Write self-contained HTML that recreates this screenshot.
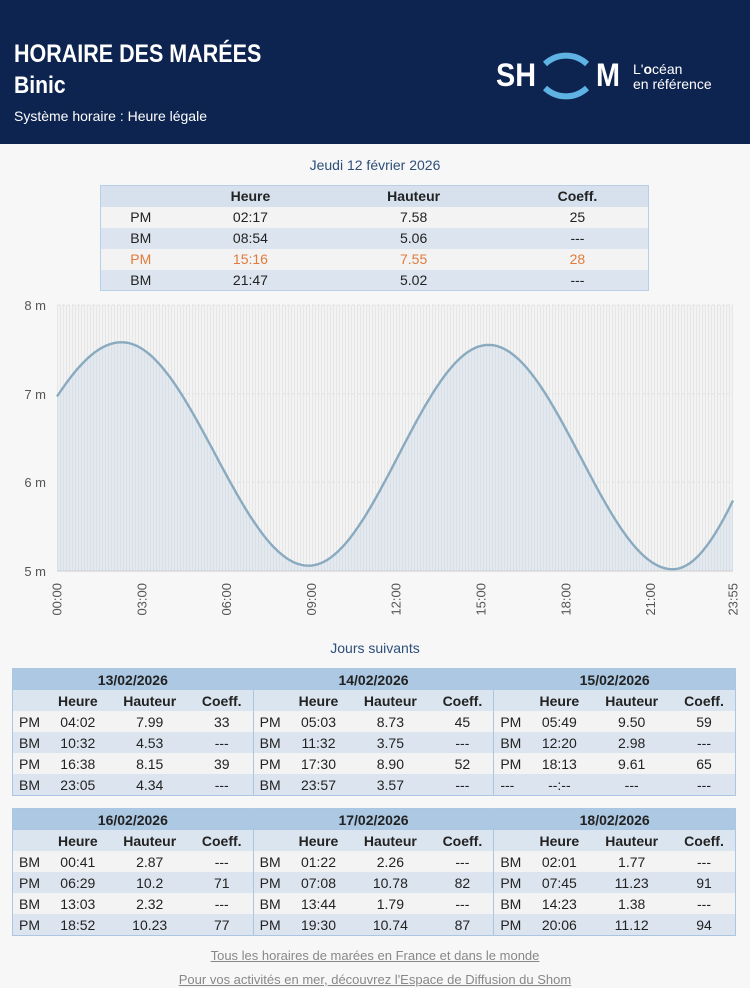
<!DOCTYPE html>
<html><head><meta charset="utf-8"><style>
*{margin:0;padding:0;box-sizing:border-box}
body{width:750px;height:988px;background:#f7f7f7;font-family:"Liberation Sans",sans-serif;position:relative;overflow:hidden;color:#222}
.hdr{position:absolute;left:0;top:0;width:750px;height:144px;background:#0d2350;color:#fff}
.a{position:absolute}
table{border-collapse:collapse;font-size:14px}
td,th{text-align:center;height:21px;padding:0}
th{font-weight:bold}
.t1{position:absolute;left:100px;top:185px;width:549px;border:1px solid #b8cfe6}
.t1 tr:nth-child(odd){background:#dce5ef}.t1 tr:nth-child(even){background:#f3f3f3}
.t1 tr:first-child{background:#d6e1ed}
.blk{position:absolute;left:12px;width:724px;border:1px solid #aac6e2;display:flex}
.blk table{width:241px;border-right:1px solid #aac6e2}
.blk table:last-child{border-right:none}
.blk tr.d{background:#adc8e3}.blk tr.h{background:#dbe5ef}
.blk tr.o{background:#f3f3f3}.blk tr.e{background:#dce5ef}
.blk td:first-child{text-align:left;padding-left:6px;width:34px}
.lnk{position:absolute;width:750px;text-align:center;font-size:13px;color:#888;text-decoration:underline}
</style></head><body>
<div class="hdr">
<div class="a" style="left:14px;top:40px;font-size:25px;font-weight:bold;transform:scaleX(0.86);transform-origin:0 0;white-space:nowrap">HORAIRE DES MARÉES</div>
<div class="a" style="left:14px;top:72px;font-size:24px;font-weight:bold;transform:scaleX(0.88);transform-origin:0 0">Binic</div>
<div class="a" style="left:14px;top:108px;font-size:14px">Système horaire : Heure légale</div>
<div class="a" style="left:496px;top:57px;font-size:32px;font-weight:bold;transform:scaleX(0.9);transform-origin:0 0">SH</div>
<div class="a" style="left:596px;top:57px;font-size:32px;font-weight:bold;transform:scaleX(0.9);transform-origin:0 0">M</div>
<svg class="a" style="left:530px;top:38px" width="72" height="76"><path d="M15 26 A32 34 0 0 1 57 26" stroke="#5eb3e4" stroke-width="6" fill="none"/><path d="M15 50 A32 34 0 0 0 57 50" stroke="#5eb3e4" stroke-width="6" fill="none"/></svg>
<div class="a" style="left:633px;top:62px;font-size:14px;line-height:15px">L'<b>o</b>céan<br>en référence</div>
</div>
<div class="a" style="left:0;width:750px;top:157px;text-align:center;font-size:14px;color:#2d4f7a">Jeudi 12 février 2026</div>
<table class="t1">
<tr><th style="width:80px"></th><th>Heure</th><th>Hauteur</th><th>Coeff.</th></tr>
<tr><td>PM</td><td>02:17</td><td>7.58</td><td>25</td></tr>
<tr><td>BM</td><td>08:54</td><td>5.06</td><td>---</td></tr>
<tr style="color:#e07b3c"><td>PM</td><td>15:16</td><td>7.55</td><td>28</td></tr>
<tr><td>BM</td><td>21:47</td><td>5.02</td><td>---</td></tr>
</table>
<svg class="a" style="left:0;top:295px" width="750" height="330" id="ch">
<defs><pattern id="st" width="3" height="10" patternUnits="userSpaceOnUse"><rect width="3" height="10" fill="#f3f3f3"/><rect width="1" height="10" fill="#e6e6e6"/></pattern>
<pattern id="st2" width="3" height="10" patternUnits="userSpaceOnUse"><rect width="3" height="10" fill="#e3e9ee"/><rect width="1" height="10" fill="#d8e0e7"/></pattern></defs>
<rect x="57" y="10" width="676" height="266" fill="url(#st)"/>
<g stroke="#e2e2e2" stroke-dasharray="3,2"><line x1="57" x2="733" y1="10" y2="10"/><line x1="57" x2="733" y1="98.7" y2="98.7"/><line x1="57" x2="733" y1="187.3" y2="187.3"/></g>
<path id="ar" fill="url(#st2)"/>
<path id="ln" fill="none" stroke="#8aaabf" stroke-width="2.4"/>
<line x1="57" x2="733" y1="276" y2="276" stroke="#ccc"/>
<g font-size="13" fill="#555" text-anchor="end"><text x="46" y="15">8 m</text><text x="46" y="104">7 m</text><text x="46" y="192">6 m</text><text x="46" y="281">5 m</text></g>
<g font-size="13" fill="#555" text-anchor="end" id="xl"></g>
</svg>
<script>
var ex=[[-260,5.28],[137,7.58],[534,5.06],[916,7.55],[1307,5.02],[1682,7.99]];
function h(t){for(var i=0;i<ex.length-1;i++){var a=ex[i],b=ex[i+1];if(t>=a[0]&&t<=b[0]){var f=(t-a[0])/(b[0]-a[0]);return a[1]+(b[1]-a[1])*(1-Math.cos(Math.PI*f))/2;}}}
var d="";for(var t=0;t<=1435;t+=5){var x=57+t/1435*676,y=10+(8-h(t))*88.67;d+=(t?"L":"M")+x.toFixed(1)+" "+y.toFixed(1);}
document.getElementById("ln").setAttribute("d",d);
document.getElementById("ar").setAttribute("d",d+"L733 276L57 276Z");
var L=["00:00","03:00","06:00","09:00","12:00","15:00","18:00","21:00","23:55"],T=[0,180,360,540,720,900,1080,1260,1435],g=document.getElementById("xl"),s="";
for(var i=0;i<9;i++){var x=57+T[i]/1435*676+4.5;s+='<text transform="translate('+x.toFixed(1)+',288) rotate(-90)">'+L[i]+'</text>';}
g.innerHTML=s;
</script>
<div class="a" style="left:0;width:750px;top:640px;text-align:center;font-size:14px;color:#2d4f7a">Jours suivants</div>
<div class="blk" style="top:668px">
<table><tr class="d"><th colspan="4">13/02/2026</th></tr><tr class="h"><th></th><th>Heure</th><th>Hauteur</th><th>Coeff.</th></tr>
<tr class="o"><td>PM</td><td>04:02</td><td>7.99</td><td>33</td></tr><tr class="e"><td>BM</td><td>10:32</td><td>4.53</td><td>---</td></tr><tr class="o"><td>PM</td><td>16:38</td><td>8.15</td><td>39</td></tr><tr class="e"><td>BM</td><td>23:05</td><td>4.34</td><td>---</td></tr></table>
<table><tr class="d"><th colspan="4">14/02/2026</th></tr><tr class="h"><th></th><th>Heure</th><th>Hauteur</th><th>Coeff.</th></tr>
<tr class="o"><td>PM</td><td>05:03</td><td>8.73</td><td>45</td></tr><tr class="e"><td>BM</td><td>11:32</td><td>3.75</td><td>---</td></tr><tr class="o"><td>PM</td><td>17:30</td><td>8.90</td><td>52</td></tr><tr class="e"><td>BM</td><td>23:57</td><td>3.57</td><td>---</td></tr></table>
<table><tr class="d"><th colspan="4">15/02/2026</th></tr><tr class="h"><th></th><th>Heure</th><th>Hauteur</th><th>Coeff.</th></tr>
<tr class="o"><td>PM</td><td>05:49</td><td>9.50</td><td>59</td></tr><tr class="e"><td>BM</td><td>12:20</td><td>2.98</td><td>---</td></tr><tr class="o"><td>PM</td><td>18:13</td><td>9.61</td><td>65</td></tr><tr class="e"><td>---</td><td>--:--</td><td>---</td><td>---</td></tr></table>
</div>
<div class="blk" style="top:808px">
<table><tr class="d"><th colspan="4">16/02/2026</th></tr><tr class="h"><th></th><th>Heure</th><th>Hauteur</th><th>Coeff.</th></tr>
<tr class="o"><td>BM</td><td>00:41</td><td>2.87</td><td>---</td></tr><tr class="e"><td>PM</td><td>06:29</td><td>10.2</td><td>71</td></tr><tr class="o"><td>BM</td><td>13:03</td><td>2.32</td><td>---</td></tr><tr class="e"><td>PM</td><td>18:52</td><td>10.23</td><td>77</td></tr></table>
<table><tr class="d"><th colspan="4">17/02/2026</th></tr><tr class="h"><th></th><th>Heure</th><th>Hauteur</th><th>Coeff.</th></tr>
<tr class="o"><td>BM</td><td>01:22</td><td>2.26</td><td>---</td></tr><tr class="e"><td>PM</td><td>07:08</td><td>10.78</td><td>82</td></tr><tr class="o"><td>BM</td><td>13:44</td><td>1.79</td><td>---</td></tr><tr class="e"><td>PM</td><td>19:30</td><td>10.74</td><td>87</td></tr></table>
<table><tr class="d"><th colspan="4">18/02/2026</th></tr><tr class="h"><th></th><th>Heure</th><th>Hauteur</th><th>Coeff.</th></tr>
<tr class="o"><td>BM</td><td>02:01</td><td>1.77</td><td>---</td></tr><tr class="e"><td>PM</td><td>07:45</td><td>11.23</td><td>91</td></tr><tr class="o"><td>BM</td><td>14:23</td><td>1.38</td><td>---</td></tr><tr class="e"><td>PM</td><td>20:06</td><td>11.12</td><td>94</td></tr></table>
</div>
<div class="lnk" style="top:948px">Tous les horaires de marées en France et dans le monde</div>
<div class="lnk" style="top:972px">Pour vos activités en mer, découvrez l'Espace de Diffusion du Shom</div>
</body></html>
